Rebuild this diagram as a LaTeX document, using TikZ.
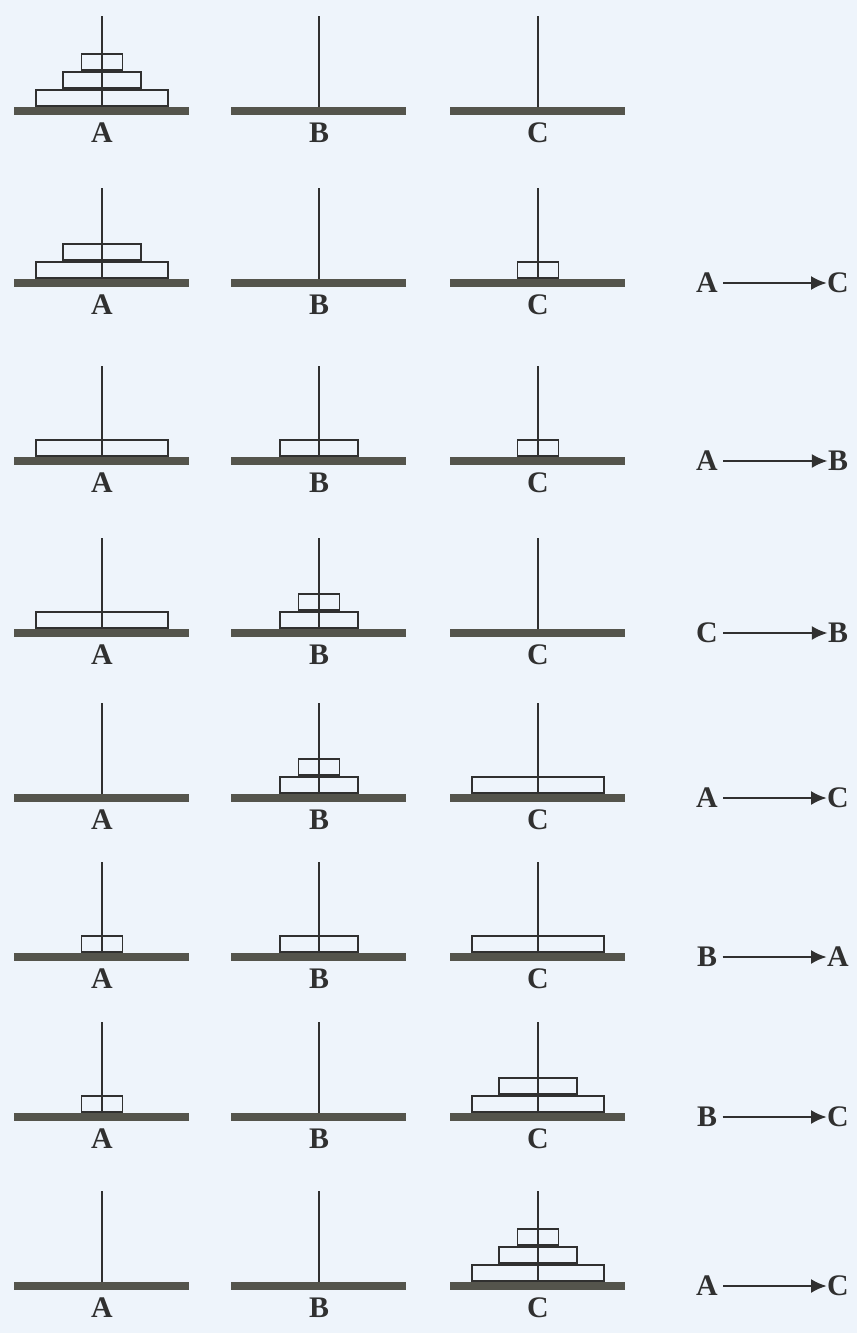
\documentclass[tikz,border=0pt]{standalone}
\usepackage{fontspec}
\setmainfont{Liberation Serif}
\usetikzlibrary{arrows.meta}
\definecolor{paper}{RGB}{238,244,251}
\definecolor{board}{RGB}{84,84,76}
\definecolor{ink}{RGB}{48,48,48}
\tikzset{
  base/.style={fill=board,draw=none},
  pole/.style={draw=ink,line width=1.4pt},
  disk/.style={draw=ink,line width=0.7pt},
  peglabel/.style={font=\fontsize{17}{17}\selectfont\bfseries,text=ink,inner sep=0pt},
  movearrow/.style={draw=ink,line width=1.5pt,-{Latex[length=9pt,width=8pt]}},
}
\begin{document}
\begin{tikzpicture}[x=0.02cm,y=-0.02cm]
  \fill[paper] (0,0) rectangle (857,1333);
  \useasboundingbox (0,0) rectangle (857,1333);
  % the three pegs, row by row
  \foreach \row/\ybase in {1/111,2/283,3/461,4/633,5/798,6/957,7/1117,8/1286}{
    \foreach \peg/\xpeg in {A/102,B/319,C/538}{
      \fill[base] (\xpeg-88,\ybase-4) rectangle (\xpeg+87,\ybase+4);
      \draw[pole] (\xpeg,\ybase-4) -- (\xpeg,\ybase-95);
      \node[peglabel] (lab\peg\row) at (\xpeg,\ybase+22) {\peg};
    }
  }
  % disks: peg x / base y / level / width
  \foreach \xpeg/\ybase/\lvl/\w in {
      102/111/0/132, 102/111/1/78, 102/111/2/41,
      102/283/0/132, 102/283/1/78, 538/283/0/41,
      102/461/0/132, 319/461/0/78, 538/461/0/41,
      102/633/0/132, 319/633/0/78, 319/633/1/41,
      319/798/0/78, 319/798/1/41, 538/798/0/132,
      102/957/0/41, 319/957/0/78, 538/957/0/132,
      102/1117/0/41, 538/1117/0/132, 538/1117/1/78,
      538/1286/0/132, 538/1286/1/78, 538/1286/2/41}{
    \draw[disk] (\xpeg-\w/2,\ybase-5-\lvl*18) rectangle (\xpeg+\w/2,\ybase-21-\lvl*18);
  }
  % moves
  \foreach \row/\ybase/\src/\dst in {2/283/A/C,3/461/A/B,4/633/C/B,5/798/A/C,
      6/957/B/A,7/1117/B/C,8/1286/A/C}{
    \node[peglabel,inner xsep=3pt] (src\row) at (707,\ybase) {\src};
    \node[peglabel] (dst\row) at (838,\ybase) {\dst};
    \draw[movearrow] (src\row) -- (dst\row);
  }
\end{tikzpicture}
\end{document}
